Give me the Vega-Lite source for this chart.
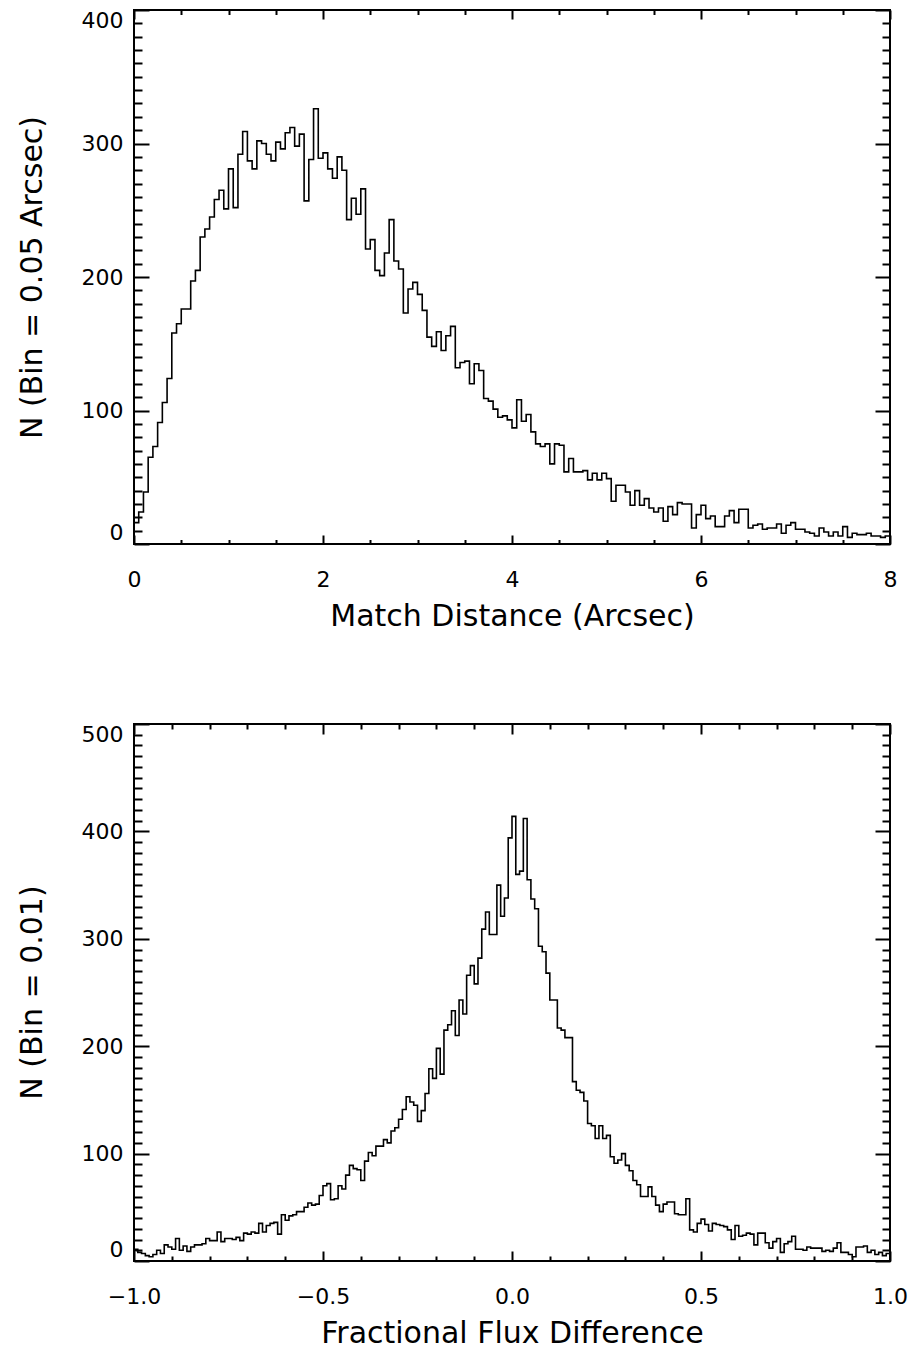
{
  "$schema": "https://vega.github.io/schema/vega-lite/v6.json",
  "background": "white",
  "padding": {"left": 16, "top": 8, "right": 10, "bottom": 5},
  "bounds": "flush",
  "spacing": 180,
  "config": {
    "view": {"stroke": "black", "strokeWidth": 2},
    "axis": {
      "grid": false, "domain": false, "minExtent": 0, "maxExtent": 400,
      "labelFont": "DejaVu Sans", "labelFontSize": 22, "labelColor": "black",
      "titleFont": "DejaVu Sans", "titleFontSize": 30, "titleFontWeight": "normal", "titleColor": "black",
      "tickColor": "black", "tickWidth": 2
    }
  },
  "vconcat": [
    {
      "width": 756, "height": 534,
      "data": {"values": [
        {"d":0,"n":16},{"d":0.05,"n":24},{"d":0.1,"n":39},{"d":0.15,"n":65},{"d":0.2,"n":73},{"d":0.25,"n":91},{"d":0.3,"n":106},{"d":0.35,"n":124},{"d":0.4,"n":158},{"d":0.45,"n":165},
        {"d":0.5,"n":176},{"d":0.55,"n":176},{"d":0.6,"n":197},{"d":0.65,"n":205},{"d":0.7,"n":230},{"d":0.75,"n":236},{"d":0.8,"n":245},{"d":0.85,"n":258},{"d":0.9,"n":265},{"d":0.95,"n":251},
        {"d":1.0,"n":281},{"d":1.05,"n":252},{"d":1.1,"n":292},{"d":1.15,"n":309},{"d":1.2,"n":287},{"d":1.25,"n":281},{"d":1.3,"n":302},{"d":1.35,"n":300},{"d":1.4,"n":292},{"d":1.45,"n":287},
        {"d":1.5,"n":301},{"d":1.55,"n":296},{"d":1.6,"n":308},{"d":1.65,"n":312},{"d":1.7,"n":298},{"d":1.75,"n":307},{"d":1.8,"n":257},{"d":1.85,"n":288},{"d":1.9,"n":326},{"d":1.95,"n":289},
        {"d":2.0,"n":293},{"d":2.05,"n":281},{"d":2.1,"n":274},{"d":2.15,"n":290},{"d":2.2,"n":280},{"d":2.25,"n":243},{"d":2.3,"n":259},{"d":2.35,"n":247},{"d":2.4,"n":266},{"d":2.45,"n":221},
        {"d":2.5,"n":228},{"d":2.55,"n":205},{"d":2.6,"n":201},{"d":2.65,"n":218},{"d":2.7,"n":243},{"d":2.75,"n":212},{"d":2.8,"n":206},{"d":2.85,"n":173},{"d":2.9,"n":191},{"d":2.95,"n":196},
        {"d":3.0,"n":187},{"d":3.05,"n":175},{"d":3.1,"n":155},{"d":3.15,"n":148},{"d":3.2,"n":159},{"d":3.25,"n":145},{"d":3.3,"n":156},{"d":3.35,"n":163},{"d":3.4,"n":132},{"d":3.45,"n":136},
        {"d":3.5,"n":137},{"d":3.55,"n":120},{"d":3.6,"n":135},{"d":3.65,"n":130},{"d":3.7,"n":109},{"d":3.75,"n":107},{"d":3.8,"n":101},{"d":3.85,"n":95},{"d":3.9,"n":96},{"d":3.95,"n":93},
        {"d":4.0,"n":87},{"d":4.05,"n":108},{"d":4.1,"n":92},{"d":4.15,"n":97},{"d":4.2,"n":84},{"d":4.25,"n":75},{"d":4.3,"n":73},{"d":4.35,"n":75},{"d":4.4,"n":60},{"d":4.45,"n":75},
        {"d":4.5,"n":74},{"d":4.55,"n":54},{"d":4.6,"n":64},{"d":4.65,"n":54},{"d":4.7,"n":54},{"d":4.75,"n":55},{"d":4.8,"n":48},{"d":4.85,"n":53},{"d":4.9,"n":48},{"d":4.95,"n":53},
        {"d":5.0,"n":49},{"d":5.05,"n":32},{"d":5.1,"n":44},{"d":5.15,"n":44},{"d":5.2,"n":39},{"d":5.25,"n":29},{"d":5.3,"n":40},{"d":5.35,"n":29},{"d":5.4,"n":34},{"d":5.45,"n":27},
        {"d":5.5,"n":24},{"d":5.55,"n":27},{"d":5.6,"n":17},{"d":5.65,"n":28},{"d":5.7,"n":22},{"d":5.75,"n":31},{"d":5.8,"n":30},{"d":5.85,"n":30},{"d":5.9,"n":12},{"d":5.95,"n":22},
        {"d":6.0,"n":29},{"d":6.05,"n":19},{"d":6.1,"n":21},{"d":6.15,"n":13},{"d":6.2,"n":13},{"d":6.25,"n":21},{"d":6.3,"n":25},{"d":6.35,"n":16},{"d":6.4,"n":26},{"d":6.45,"n":26},
        {"d":6.5,"n":12},{"d":6.55,"n":14},{"d":6.6,"n":15},{"d":6.65,"n":11},{"d":6.7,"n":12},{"d":6.75,"n":12},{"d":6.8,"n":15},{"d":6.85,"n":8},{"d":6.9,"n":14},{"d":6.95,"n":16},
        {"d":7.0,"n":11},{"d":7.05,"n":11},{"d":7.1,"n":9},{"d":7.15,"n":8},{"d":7.2,"n":6},{"d":7.25,"n":12},{"d":7.3,"n":9},{"d":7.35,"n":6},{"d":7.4,"n":9},{"d":7.45,"n":6},
        {"d":7.5,"n":13},{"d":7.55,"n":5},{"d":7.6,"n":8},{"d":7.65,"n":7},{"d":7.7,"n":7},{"d":7.75,"n":8},{"d":7.8,"n":6},{"d":7.85,"n":6},{"d":7.9,"n":5},{"d":7.95,"n":6},
        {"d":8.0,"n":6}
      ]},
      "layer": [
        {
          "mark": {"type": "line", "interpolate": "step-after", "color": "black", "strokeWidth": 1.6},
          "encoding": {
            "x": {"field": "d", "type": "quantitative", "scale": {"domain": [0, 8], "nice": false, "zero": false},
                  "axis": {"orient": "bottom", "values": [0, 2, 4, 6, 8], "ticks": false, "labelPadding": 25, "labelFlush": false,
                           "title": "Match Distance (Arcsec)", "titleY": 57.5, "titleBaseline": "top"}},
            "y": {"field": "n", "type": "quantitative", "scale": {"domain": [0, 400], "nice": false},
                  "axis": {"orient": "left", "values": [0, 100, 200, 300, 400], "ticks": false, "labelPadding": 11, "labelFlush": true,
                           "title": "N (Bin = 0.05 Arcsec)", "titleX": -87, "titleY": 267, "titleAngle": 270, "titleBaseline": "bottom", "titleAlign": "center"}}
          }
        },
        {
          "mark": {"type": "point", "opacity": 0},
          "encoding": {
            "x": {"field": "d", "type": "quantitative", "scale": {"domain": [0, 8], "nice": false, "zero": false},
                  "axis": {"orient": "bottom", "values": [0, 2, 4, 6, 8], "labels": false, "title": null, "tickSize": -9}},
            "y": {"field": "n", "type": "quantitative", "scale": {"domain": [0, 400], "nice": false},
                  "axis": {"orient": "left", "values": [0, 100, 200, 300, 400], "labels": false, "title": null, "tickSize": -15}}
          }
        },
        {
          "mark": {"type": "point", "opacity": 0},
          "encoding": {
            "x": {"field": "d", "type": "quantitative", "scale": {"domain": [0, 8], "nice": false, "zero": false},
                  "axis": {"orient": "top", "values": [0, 2, 4, 6, 8], "labels": false, "title": null, "tickSize": -9}},
            "y": {"field": "n", "type": "quantitative", "scale": {"domain": [0, 400], "nice": false},
                  "axis": {"orient": "right", "values": [0, 100, 200, 300, 400], "labels": false, "title": null, "tickSize": -15}}
          }
        },
        {
          "mark": {"type": "point", "opacity": 0},
          "encoding": {
            "x": {"field": "d", "type": "quantitative", "scale": {"domain": [0, 8], "nice": false, "zero": false},
                  "axis": {"orient": "bottom", "values": [0.5, 1, 1.5, 2.5, 3, 3.5, 4.5, 5, 5.5, 6.5, 7, 7.5], "labels": false, "title": null, "tickSize": -4.5}},
            "y": {"field": "n", "type": "quantitative", "scale": {"domain": [0, 400], "nice": false},
                  "axis": {"orient": "left", "values": [10,20,30,40,50,60,70,80,90,110,120,130,140,150,160,170,180,190,210,220,230,240,250,260,270,280,290,310,320,330,340,350,360,370,380,390], "labels": false, "title": null, "tickSize": -8}}
          }
        },
        {
          "mark": {"type": "point", "opacity": 0},
          "encoding": {
            "x": {"field": "d", "type": "quantitative", "scale": {"domain": [0, 8], "nice": false, "zero": false},
                  "axis": {"orient": "top", "values": [0.5, 1, 1.5, 2.5, 3, 3.5, 4.5, 5, 5.5, 6.5, 7, 7.5], "labels": false, "title": null, "tickSize": -4.5}},
            "y": {"field": "n", "type": "quantitative", "scale": {"domain": [0, 400], "nice": false},
                  "axis": {"orient": "right", "values": [10,20,30,40,50,60,70,80,90,110,120,130,140,150,160,170,180,190,210,220,230,240,250,260,270,280,290,310,320,330,340,350,360,370,380,390], "labels": false, "title": null, "tickSize": -8}}
          }
        }
      ],
      "resolve": {"axis": {"x": "independent", "y": "independent"}}
    },
    {
      "width": 756, "height": 537,
      "data": {"values": [
        {"f":-1.0,"n":11},{"f":-0.99,"n":8},{"f":-0.98,"n":7},{"f":-0.97,"n":5},{"f":-0.96,"n":4},{"f":-0.95,"n":6},{"f":-0.94,"n":10},{"f":-0.93,"n":7},{"f":-0.92,"n":15},{"f":-0.91,"n":13},
        {"f":-0.9,"n":11},{"f":-0.89,"n":21},{"f":-0.88,"n":10},{"f":-0.87,"n":14},{"f":-0.86,"n":9},{"f":-0.85,"n":13},{"f":-0.84,"n":15},{"f":-0.83,"n":15},{"f":-0.82,"n":16},{"f":-0.81,"n":21},
        {"f":-0.8,"n":19},{"f":-0.79,"n":19},{"f":-0.78,"n":27},{"f":-0.77,"n":18},{"f":-0.76,"n":21},{"f":-0.75,"n":21},{"f":-0.74,"n":20},{"f":-0.73,"n":22},{"f":-0.72,"n":19},{"f":-0.71,"n":26},
        {"f":-0.7,"n":25},{"f":-0.69,"n":27},{"f":-0.68,"n":26},{"f":-0.67,"n":35},{"f":-0.66,"n":27},{"f":-0.65,"n":33},{"f":-0.64,"n":35},{"f":-0.63,"n":36},{"f":-0.62,"n":25},{"f":-0.61,"n":43},
        {"f":-0.6,"n":38},{"f":-0.59,"n":42},{"f":-0.58,"n":43},{"f":-0.57,"n":46},{"f":-0.56,"n":46},{"f":-0.55,"n":50},{"f":-0.54,"n":54},{"f":-0.53,"n":52},{"f":-0.52,"n":53},{"f":-0.51,"n":61},
        {"f":-0.5,"n":70},{"f":-0.49,"n":72},{"f":-0.48,"n":57},{"f":-0.47,"n":58},{"f":-0.46,"n":70},{"f":-0.45,"n":67},{"f":-0.44,"n":80},{"f":-0.43,"n":89},{"f":-0.42,"n":86},{"f":-0.41,"n":85},
        {"f":-0.4,"n":75},{"f":-0.39,"n":93},{"f":-0.38,"n":101},{"f":-0.37,"n":98},{"f":-0.36,"n":107},{"f":-0.35,"n":107},{"f":-0.34,"n":113},{"f":-0.33,"n":110},{"f":-0.32,"n":121},{"f":-0.31,"n":124},
        {"f":-0.3,"n":132},{"f":-0.29,"n":141},{"f":-0.28,"n":153},{"f":-0.27,"n":148},{"f":-0.26,"n":145},{"f":-0.25,"n":130},{"f":-0.24,"n":140},{"f":-0.23,"n":156},{"f":-0.22,"n":179},{"f":-0.21,"n":170},
        {"f":-0.2,"n":198},{"f":-0.19,"n":174},{"f":-0.18,"n":215},{"f":-0.17,"n":220},{"f":-0.16,"n":233},{"f":-0.15,"n":210},{"f":-0.14,"n":243},{"f":-0.13,"n":230},{"f":-0.12,"n":266},{"f":-0.11,"n":275},
        {"f":-0.1,"n":258},{"f":-0.09,"n":282},{"f":-0.08,"n":309},{"f":-0.07,"n":325},{"f":-0.06,"n":304},{"f":-0.05,"n":304},{"f":-0.04,"n":350},{"f":-0.03,"n":321},{"f":-0.02,"n":338},{"f":-0.01,"n":394},
        {"f":0.0,"n":414},{"f":0.01,"n":360},{"f":0.02,"n":363},{"f":0.03,"n":412},{"f":0.04,"n":355},{"f":0.05,"n":337},{"f":0.06,"n":328},{"f":0.07,"n":293},{"f":0.08,"n":288},{"f":0.09,"n":268},
        {"f":0.1,"n":243},{"f":0.11,"n":243},{"f":0.12,"n":217},{"f":0.13,"n":215},{"f":0.14,"n":208},{"f":0.15,"n":208},{"f":0.16,"n":167},{"f":0.17,"n":159},{"f":0.18,"n":157},{"f":0.19,"n":149},
        {"f":0.2,"n":128},{"f":0.21,"n":126},{"f":0.22,"n":114},{"f":0.23,"n":126},{"f":0.24,"n":114},{"f":0.25,"n":117},{"f":0.26,"n":97},{"f":0.27,"n":91},{"f":0.28,"n":94},{"f":0.29,"n":100},
        {"f":0.3,"n":89},{"f":0.31,"n":84},{"f":0.32,"n":75},{"f":0.33,"n":71},{"f":0.34,"n":60},{"f":0.35,"n":60},{"f":0.36,"n":69},{"f":0.37,"n":60},{"f":0.38,"n":52},{"f":0.39,"n":46},
        {"f":0.4,"n":53},{"f":0.41,"n":55},{"f":0.42,"n":55},{"f":0.43,"n":44},{"f":0.44,"n":43},{"f":0.45,"n":43},{"f":0.46,"n":58},{"f":0.47,"n":29},{"f":0.48,"n":27},{"f":0.49,"n":35},
        {"f":0.5,"n":39},{"f":0.51,"n":34},{"f":0.52,"n":28},{"f":0.53,"n":35},{"f":0.54,"n":34},{"f":0.55,"n":33},{"f":0.56,"n":32},{"f":0.57,"n":29},{"f":0.58,"n":20},{"f":0.59,"n":33},
        {"f":0.6,"n":23},{"f":0.61,"n":24},{"f":0.62,"n":26},{"f":0.63,"n":25},{"f":0.64,"n":15},{"f":0.65,"n":26},{"f":0.66,"n":26},{"f":0.67,"n":17},{"f":0.68,"n":12},{"f":0.69,"n":18},
        {"f":0.7,"n":21},{"f":0.71,"n":8},{"f":0.72,"n":16},{"f":0.73,"n":18},{"f":0.74,"n":23},{"f":0.75,"n":11},{"f":0.76,"n":11},{"f":0.77,"n":10},{"f":0.78,"n":13},{"f":0.79,"n":12},
        {"f":0.8,"n":12},{"f":0.81,"n":12},{"f":0.82,"n":9},{"f":0.83,"n":10},{"f":0.84,"n":9},{"f":0.85,"n":12},{"f":0.86,"n":17},{"f":0.87,"n":8},{"f":0.88,"n":8},{"f":0.89,"n":6},
        {"f":0.9,"n":4},{"f":0.91,"n":13},{"f":0.92,"n":13},{"f":0.93,"n":14},{"f":0.94,"n":8},{"f":0.95,"n":10},{"f":0.96,"n":6},{"f":0.97,"n":8},{"f":0.98,"n":5},{"f":0.99,"n":7},
        {"f":1.0,"n":7}
      ]},
      "layer": [
        {
          "mark": {"type": "line", "interpolate": "step-after", "color": "black", "strokeWidth": 1.6},
          "encoding": {
            "x": {"field": "f", "type": "quantitative", "scale": {"domain": [-1, 1], "nice": false, "zero": false},
                  "axis": {"orient": "bottom", "values": [-1, -0.5, 0, 0.5, 1], "format": ".1f", "ticks": false, "labelPadding": 25, "labelFlush": false,
                           "title": "Fractional Flux Difference", "titleY": 57.5, "titleBaseline": "top"}},
            "y": {"field": "n", "type": "quantitative", "scale": {"domain": [0, 500], "nice": false},
                  "axis": {"orient": "left", "values": [0, 100, 200, 300, 400, 500], "ticks": false, "labelPadding": 11, "labelFlush": true,
                           "title": "N (Bin = 0.01)", "titleX": -87, "titleY": 268, "titleAngle": 270, "titleBaseline": "bottom", "titleAlign": "center"}}
          }
        },
        {
          "mark": {"type": "point", "opacity": 0},
          "encoding": {
            "x": {"field": "f", "type": "quantitative", "scale": {"domain": [-1, 1], "nice": false, "zero": false},
                  "axis": {"orient": "bottom", "values": [-1, -0.5, 0, 0.5, 1], "labels": false, "title": null, "tickSize": -10}},
            "y": {"field": "n", "type": "quantitative", "scale": {"domain": [0, 500], "nice": false},
                  "axis": {"orient": "left", "values": [0, 100, 200, 300, 400, 500], "labels": false, "title": null, "tickSize": -15}}
          }
        },
        {
          "mark": {"type": "point", "opacity": 0},
          "encoding": {
            "x": {"field": "f", "type": "quantitative", "scale": {"domain": [-1, 1], "nice": false, "zero": false},
                  "axis": {"orient": "top", "values": [-1, -0.5, 0, 0.5, 1], "labels": false, "title": null, "tickSize": -10}},
            "y": {"field": "n", "type": "quantitative", "scale": {"domain": [0, 500], "nice": false},
                  "axis": {"orient": "right", "values": [0, 100, 200, 300, 400, 500], "labels": false, "title": null, "tickSize": -15}}
          }
        },
        {
          "mark": {"type": "point", "opacity": 0},
          "encoding": {
            "x": {"field": "f", "type": "quantitative", "scale": {"domain": [-1, 1], "nice": false, "zero": false},
                  "axis": {"orient": "bottom", "values": [-0.9,-0.8,-0.7,-0.6,-0.4,-0.3,-0.2,-0.1,0.1,0.2,0.3,0.4,0.6,0.7,0.8,0.9], "labels": false, "title": null, "tickSize": -5}},
            "y": {"field": "n", "type": "quantitative", "scale": {"domain": [0, 500], "nice": false},
                  "axis": {"orient": "left", "values": [10,20,30,40,50,60,70,80,90,110,120,130,140,150,160,170,180,190,210,220,230,240,250,260,270,280,290,310,320,330,340,350,360,370,380,390,410,420,430,440,450,460,470,480,490], "labels": false, "title": null, "tickSize": -8}}
          }
        },
        {
          "mark": {"type": "point", "opacity": 0},
          "encoding": {
            "x": {"field": "f", "type": "quantitative", "scale": {"domain": [-1, 1], "nice": false, "zero": false},
                  "axis": {"orient": "top", "values": [-0.9,-0.8,-0.7,-0.6,-0.4,-0.3,-0.2,-0.1,0.1,0.2,0.3,0.4,0.6,0.7,0.8,0.9], "labels": false, "title": null, "tickSize": -5}},
            "y": {"field": "n", "type": "quantitative", "scale": {"domain": [0, 500], "nice": false},
                  "axis": {"orient": "right", "values": [10,20,30,40,50,60,70,80,90,110,120,130,140,150,160,170,180,190,210,220,230,240,250,260,270,280,290,310,320,330,340,350,360,370,380,390,410,420,430,440,450,460,470,480,490], "labels": false, "title": null, "tickSize": -8}}
          }
        }
      ],
      "resolve": {"axis": {"x": "independent", "y": "independent"}}
    }
  ]
}
